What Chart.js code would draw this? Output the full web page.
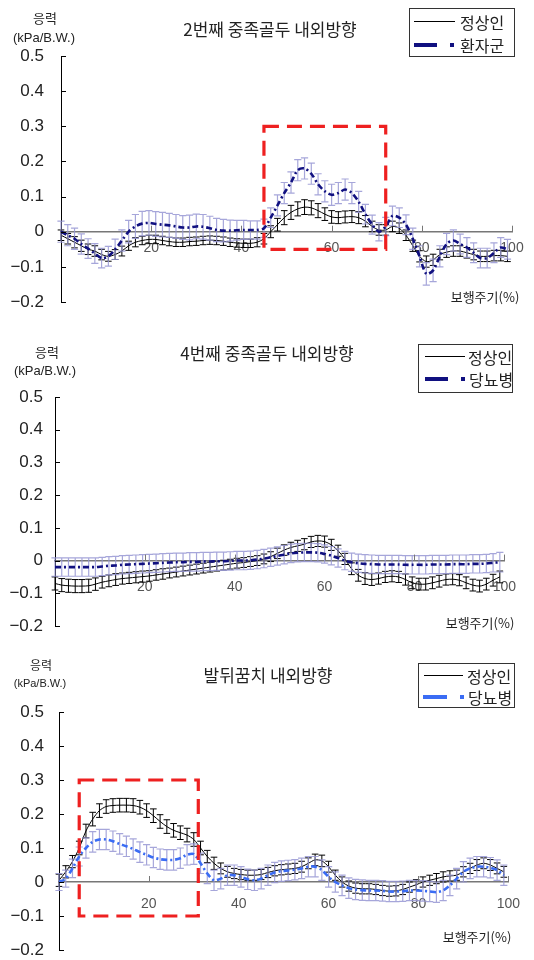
<!DOCTYPE html>
<html>
<head>
<meta charset="utf-8">
<script src="https://cdn.jsdelivr.net/npm/chart.js@4.4.0/dist/chart.umd.min.js"></script>
<style>
  body { margin: 0; background: #fff; width: 534px; height: 960px; position: relative; overflow: hidden;
         font-family: "Liberation Sans", "Noto Sans CJK KR", sans-serif; color: #222; }
  .panel { position: absolute; left: 0; width: 534px; height: 320px; }
  .c { position: absolute; white-space: nowrap; line-height: 1; transform: translate(-50%, -50%); }
  .lt { position: absolute; white-space: nowrap; line-height: 1; transform: translateY(-50%); font-size: 16px;
        font-family: "Noto Sans CJK KR", sans-serif; }
  .box { position: absolute; border: 1.5px solid #333; box-sizing: border-box; }
  .ln { position: absolute; height: 0; border-top: 1px solid #000; }
  .blk { position: absolute; height: 4px; }
  .kr { font-family: "Noto Sans CJK KR", sans-serif; }
</style>
</head>
<body>

<div class="panel" style="top:0"><canvas id="c1" width="534" height="320"></canvas></div>
<div class="panel" style="top:320px"><canvas id="c2" width="534" height="320"></canvas></div>
<div class="panel" style="top:640px"><canvas id="c3" width="534" height="320"></canvas></div>

<!-- panel 1 texts -->
<div class="c kr" style="left:45px;top:17px;font-size:13px">응력</div>
<div class="c" style="left:44px;top:37px;font-size:13px">(kPa/B.W.)</div>
<div class="c kr" style="left:270px;top:28px;font-size:17px">2번째 중족골두 내외방향</div>
<div class="c kr" style="left:485px;top:296px;font-size:13px">보행주기(%)</div>
<div class="box" style="left:409px;top:8px;width:106px;height:49px"></div>
<div class="ln" style="left:414px;top:21px;width:41px"></div>
<div class="blk" style="left:414px;top:43px;width:23px;background:#101080"></div>
<div class="blk" style="left:450px;top:43px;width:4px;background:#101080"></div>
<div class="lt" style="left:460px;top:22px">정상인</div>
<div class="lt" style="left:460px;top:45px">환자군</div>

<!-- panel 2 texts -->
<div class="c kr" style="left:47px;top:351px;font-size:13px">응력</div>
<div class="c" style="left:45px;top:370px;font-size:13px">(kPa/B.W.)</div>
<div class="c kr" style="left:267px;top:352px;font-size:17px">4번째 중족골두 내외방향</div>
<div class="c kr" style="left:480px;top:622px;font-size:13px">보행주기(%)</div>
<div class="box" style="left:418px;top:344px;width:95px;height:49px"></div>
<div class="ln" style="left:425px;top:356px;width:40px"></div>
<div class="blk" style="left:425px;top:377px;width:23px;background:#101080"></div>
<div class="blk" style="left:461px;top:377px;width:4px;background:#101080"></div>
<div class="lt" style="left:468px;top:357px">정상인</div>
<div class="lt" style="left:469px;top:379px">당뇨병</div>

<!-- panel 3 texts -->
<div class="c kr" style="left:41px;top:665px;font-size:12px">응력</div>
<div class="c" style="left:40px;top:683px;font-size:11px">(kPa/B.W.)</div>
<div class="c kr" style="left:268px;top:674px;font-size:17px">발뒤꿈치 내외방향</div>
<div class="c kr" style="left:477px;top:936px;font-size:13px">보행주기(%)</div>
<div class="box" style="left:418px;top:663px;width:97px;height:45px"></div>
<div class="ln" style="left:424px;top:675px;width:39px"></div>
<div class="blk" style="left:423px;top:695px;width:24px;background:#3a6cf4"></div>
<div class="blk" style="left:460px;top:695px;width:4px;background:#3a6cf4"></div>
<div class="lt" style="left:467px;top:676px">정상인</div>
<div class="lt" style="left:468px;top:697px">당뇨병</div>

<script>
// gait cycle (%)
const X = [0,1.5,3,4.5,6,7.5,9,10.5,12,13.5,
  15,16.5,18,19.5,21,22.5,24,25.5,27,28.5,
  30,31.5,33,34.5,36,37.5,39,40.5,42,43.5,
  45,46.5,48,49.5,51,52.5,54,55.5,57,58.5,
  60,61.5,63,64.5,66,67.5,69,70.5,72,73.5,
  75,76.5,78,79.5,81,82.5,84,85.5,87,88.5,
  90,91.5,93,94.5,96,97.5,99];

// 2nd metatarsal head - normal / patient
const N1 = [-0.01,-0.02,-0.03,-0.04,-0.05,-0.055,-0.065,-0.07,-0.065,-0.055,
  -0.04,-0.03,-0.025,-0.022,-0.022,-0.025,-0.028,-0.03,-0.03,-0.028,
  -0.027,-0.025,-0.024,-0.025,-0.027,-0.03,-0.032,-0.033,-0.033,-0.03,
  -0.02,0.0,0.02,0.04,0.055,0.065,0.07,0.068,0.06,0.05,
  0.042,0.04,0.042,0.043,0.04,0.03,0.015,0.005,0.005,0.015,
  0.01,-0.01,-0.04,-0.07,-0.085,-0.08,-0.065,-0.058,-0.055,-0.055,
  -0.06,-0.065,-0.07,-0.07,-0.068,-0.068,-0.07];
const N1_SD = [0.015,0.015,0.016,0.016,0.015,0.015,0.015,0.014,0.014,0.014,
  0.013,0.013,0.012,0.012,0.012,0.012,0.012,0.012,0.012,0.012,
  0.012,0.012,0.012,0.012,0.012,0.012,0.012,0.012,0.012,0.013,
  0.015,0.017,0.018,0.02,0.02,0.02,0.021,0.02,0.02,0.018,
  0.018,0.017,0.017,0.017,0.017,0.016,0.015,0.015,0.015,0.015,
  0.015,0.015,0.016,0.016,0.016,0.016,0.015,0.015,0.015,0.015,
  0.015,0.015,0.015,0.015,0.015,0.015,0.015];
const P1 = [0.0,-0.01,-0.02,-0.035,-0.048,-0.062,-0.075,-0.07,-0.05,-0.025,
  0.0,0.015,0.023,0.025,0.022,0.02,0.018,0.015,0.012,0.012,
  0.015,0.014,0.01,0.005,0.003,0.003,0.004,0.005,0.005,0.005,
  0.01,0.04,0.075,0.11,0.14,0.175,0.18,0.165,0.135,0.115,
  0.105,0.11,0.12,0.11,0.085,0.05,0.02,0.0,0.015,0.045,
  0.04,0.02,-0.02,-0.07,-0.12,-0.11,-0.07,-0.035,-0.025,-0.035,
  -0.045,-0.06,-0.075,-0.075,-0.06,-0.045,-0.05];
const P1_SD = [0.03,0.03,0.03,0.029,0.028,0.028,0.028,0.028,0.029,0.03,
  0.032,0.034,0.035,0.035,0.035,0.035,0.034,0.034,0.034,0.035,
  0.035,0.035,0.034,0.033,0.032,0.03,0.028,0.027,0.026,0.026,
  0.026,0.028,0.03,0.03,0.03,0.03,0.03,0.03,0.03,0.03,
  0.03,0.03,0.03,0.03,0.03,0.028,0.027,0.026,0.026,0.028,
  0.028,0.028,0.03,0.03,0.032,0.032,0.03,0.03,0.03,0.028,
  0.028,0.028,0.028,0.028,0.028,0.028,0.028];

// 4th metatarsal head - normal / diabetes
const N2 = [-0.07,-0.075,-0.077,-0.078,-0.078,-0.077,-0.072,-0.066,-0.062,-0.058,
  -0.055,-0.053,-0.051,-0.049,-0.047,-0.044,-0.041,-0.038,-0.035,-0.032,
  -0.029,-0.026,-0.023,-0.02,-0.017,-0.014,-0.011,-0.008,-0.006,-0.003,
  0.0,0.005,0.012,0.022,0.032,0.04,0.045,0.05,0.057,0.06,
  0.058,0.048,0.03,0.005,-0.025,-0.045,-0.055,-0.058,-0.055,-0.05,
  -0.048,-0.05,-0.058,-0.068,-0.072,-0.072,-0.068,-0.063,-0.058,-0.057,
  -0.06,-0.068,-0.075,-0.078,-0.072,-0.06,-0.05];
const N2_SD = [0.02,0.02,0.02,0.02,0.02,0.02,0.019,0.018,0.018,0.018,
  0.017,0.017,0.017,0.017,0.016,0.016,0.016,0.015,0.015,0.015,
  0.015,0.015,0.015,0.015,0.015,0.015,0.015,0.015,0.015,0.015,
  0.015,0.015,0.015,0.016,0.016,0.016,0.017,0.017,0.017,0.017,
  0.017,0.017,0.017,0.017,0.018,0.018,0.018,0.018,0.017,0.017,
  0.017,0.017,0.017,0.018,0.018,0.018,0.018,0.018,0.017,0.017,
  0.017,0.018,0.018,0.018,0.018,0.018,0.018];
const P2 = [-0.02,-0.02,-0.02,-0.02,-0.02,-0.02,-0.02,-0.018,-0.016,-0.015,
  -0.013,-0.012,-0.011,-0.01,-0.009,-0.008,-0.007,-0.006,-0.005,-0.005,
  -0.004,-0.004,-0.003,-0.003,-0.002,-0.002,-0.001,0.0,0.0,0.001,
  0.003,0.006,0.01,0.014,0.018,0.022,0.024,0.025,0.025,0.024,
  0.02,0.015,0.008,0.0,-0.005,-0.008,-0.01,-0.011,-0.012,-0.012,
  -0.012,-0.012,-0.013,-0.013,-0.013,-0.013,-0.012,-0.012,-0.012,-0.011,
  -0.011,-0.011,-0.01,-0.01,-0.009,-0.007,-0.005];
const P2_SD = [0.028,0.028,0.028,0.028,0.028,0.028,0.028,0.028,0.028,0.028,
  0.028,0.028,0.028,0.028,0.028,0.028,0.028,0.028,0.028,0.028,
  0.028,0.028,0.028,0.028,0.028,0.028,0.028,0.028,0.028,0.028,
  0.028,0.028,0.028,0.028,0.028,0.028,0.028,0.028,0.028,0.028,
  0.028,0.028,0.028,0.028,0.028,0.028,0.028,0.028,0.028,0.028,
  0.028,0.028,0.028,0.028,0.028,0.028,0.028,0.028,0.028,0.028,
  0.028,0.028,0.028,0.028,0.028,0.028,0.03];

// heel - normal / diabetes
const N3 = [0.005,0.03,0.06,0.1,0.15,0.185,0.21,0.222,0.225,0.226,
  0.226,0.225,0.22,0.21,0.195,0.178,0.163,0.152,0.145,0.138,
  0.125,0.1,0.075,0.055,0.04,0.03,0.025,0.022,0.02,0.02,
  0.022,0.028,0.033,0.036,0.038,0.04,0.045,0.055,0.065,0.062,
  0.045,0.02,0.0,-0.012,-0.018,-0.02,-0.02,-0.022,-0.025,-0.027,
  -0.026,-0.022,-0.015,-0.008,0.0,0.005,0.01,0.015,0.018,0.02,
  0.03,0.04,0.05,0.055,0.05,0.04,0.03];
const N3_SD = [0.018,0.018,0.018,0.02,0.02,0.02,0.02,0.02,0.02,0.02,
  0.02,0.02,0.02,0.02,0.02,0.02,0.02,0.02,0.02,0.02,
  0.02,0.02,0.018,0.018,0.016,0.016,0.015,0.015,0.015,0.015,
  0.015,0.015,0.015,0.015,0.015,0.015,0.016,0.016,0.017,0.017,
  0.016,0.015,0.015,0.015,0.015,0.015,0.015,0.015,0.015,0.015,
  0.015,0.015,0.015,0.015,0.015,0.015,0.015,0.015,0.015,0.015,
  0.015,0.015,0.016,0.016,0.016,0.016,0.016];
const P3 = [0.0,0.01,0.04,0.075,0.1,0.118,0.125,0.125,0.12,0.112,
  0.105,0.097,0.088,0.08,0.072,0.067,0.065,0.065,0.07,0.08,
  0.082,0.055,0.025,0.005,0.01,0.02,0.02,0.015,0.008,0.005,
  0.01,0.02,0.028,0.032,0.034,0.036,0.04,0.045,0.045,0.035,
  0.015,0.0,-0.01,-0.018,-0.022,-0.024,-0.025,-0.025,-0.026,-0.028,
  -0.028,-0.027,-0.025,-0.025,-0.026,-0.028,-0.03,-0.025,-0.01,0.01,
  0.03,0.04,0.045,0.045,0.042,0.035,0.02];
const P3_SD = [0.025,0.025,0.027,0.028,0.03,0.03,0.03,0.03,0.03,0.03,
  0.03,0.03,0.03,0.03,0.03,0.03,0.03,0.03,0.03,0.03,
  0.03,0.03,0.03,0.03,0.03,0.03,0.03,0.03,0.03,0.03,
  0.03,0.03,0.03,0.03,0.03,0.03,0.03,0.03,0.03,0.03,
  0.03,0.03,0.03,0.03,0.03,0.03,0.03,0.03,0.03,0.03,
  0.03,0.03,0.03,0.03,0.03,0.03,0.03,0.03,0.03,0.03,
  0.03,0.03,0.03,0.03,0.03,0.03,0.03];

// highlighted regions: [x from, x to, y from, y to]
const BOX1 = [45, 72, -0.05, 0.3];
const BOX3 = [4.5, 31, -0.1, 0.3];

Chart.defaults.font.family = '"Liberation Sans", "Noto Sans CJK KR", sans-serif';

const pts = (ys) => X.map((x, i) => ({ x: x, y: ys[i] }));

// error bars, drawn just before each dataset's line
const errorBars = {
  id: 'errorBars',
  beforeDatasetDraw(chart, args) {
    const ds = chart.data.datasets[args.index];
    if (!ds.sd) return;
    const xs = chart.scales.x, ys = chart.scales.y, ctx = chart.ctx;
    ctx.save();
    ctx.strokeStyle = ds.barColor;
    ctx.lineWidth = ds.barWidth;
    ctx.beginPath();
    ds.data.forEach((p, i) => {
      const x = xs.getPixelForValue(p.x);
      const y1 = ys.getPixelForValue(p.y + ds.sd[i]);
      const y2 = ys.getPixelForValue(p.y - ds.sd[i]);
      ctx.moveTo(x, y1); ctx.lineTo(x, y2);
      ctx.moveTo(x - ds.cap, y1); ctx.lineTo(x + ds.cap, y1);
      ctx.moveTo(x - ds.cap, y2); ctx.lineTo(x + ds.cap, y2);
    });
    ctx.stroke();
    ctx.restore();
  }
};

// inward tick marks + dashed red box
const decor = {
  id: 'decor',
  afterDraw(chart) {
    const xs = chart.scales.x, ys = chart.scales.y, ctx = chart.ctx;
    const zero = ys.getPixelForValue(0);
    ctx.save();
    ctx.lineWidth = 1;
    ctx.strokeStyle = '#000';
    ctx.beginPath();
    ys.ticks.forEach(t => {
      const y = Math.round(ys.getPixelForValue(t.value)) + 0.5;
      ctx.moveTo(ys.right, y); ctx.lineTo(ys.right + 5, y);
    });
    ctx.stroke();
    ctx.strokeStyle = '#777';
    ctx.beginPath();
    xs.ticks.forEach(t => {
      if (t.value === 0) return;
      const x = Math.round(xs.getPixelForValue(t.value)) + 0.5;
      ctx.moveTo(x, zero); ctx.lineTo(x, zero - 6);
    });
    ctx.stroke();
    const b = chart.options.plugins.decor.box;
    if (b) {
      const x1 = xs.getPixelForValue(b[0]), x2 = xs.getPixelForValue(b[1]);
      const y1 = ys.getPixelForValue(b[3]), y2 = ys.getPixelForValue(b[2]);
      ctx.strokeStyle = '#ee2020';
      ctx.lineWidth = 3.2;
      ctx.setLineDash([15, 8]);
      ctx.strokeRect(x1, y1, x2 - x1, y2 - y1);
    }
    ctx.restore();
  }
};

function yLabel(v) {
  if (Math.abs(v) < 1e-9) return '0';
  return v < 0 ? '\u2212' + Math.abs(v).toFixed(1) : v.toFixed(1);
}

function makeChart(id, normal, normalSd, patient, patientSd, patColor, g) {
  const chart = new Chart(document.getElementById(id), {
    type: 'line',
    data: {
      datasets: [
        {
          label: 'patient',
          data: pts(patient),
          sd: patientSd, barColor: 'rgba(150,150,212,0.85)', barWidth: 1.2, cap: 3.6,
          borderColor: patColor, borderWidth: 2.6, borderDash: [6, 3, 2, 3],
          pointRadius: 0, tension: 0.3, fill: false
        },
        {
          label: 'normal',
          data: pts(normal),
          sd: normalSd, barColor: '#000', barWidth: 1, cap: 3.3,
          borderColor: '#000', borderWidth: 1,
          pointRadius: 0, tension: 0.3, fill: false
        }
      ]
    },
    options: {
      responsive: false,
      animation: false,
      events: [],
      layout: { padding: { top: g.top, bottom: 320 - g.bottom, left: 0, right: 534 - g.right } },
      plugins: {
        legend: { display: false },
        tooltip: { enabled: false },
        decor: { box: g.box }
      },
      scales: {
        x: {
          type: 'linear', min: 0, max: 100,
          position: { y: 0 },
          grid: { display: false, drawTicks: false },
          border: { color: '#777', width: 1.5 },
          ticks: {
            stepSize: 20, autoSkip: false, maxRotation: 0, padding: g.xPad,
            color: '#555', font: { size: 14 },
            callback: v => (v === 0 ? '' : v)
          }
        },
        y: {
          min: -0.2, max: 0.5,
          grid: { display: false, drawTicks: false },
          border: { color: '#000', width: 1 },
          ticks: { stepSize: 0.1, padding: g.yPad, color: '#222', font: { size: 17 }, callback: yLabel },
          afterFit: s => { s.width = g.yW; s.paddingTop = 0; s.paddingBottom = 0; }
        }
      }
    },
    plugins: [errorBars, decor]
  });

  // nudge the layout padding until the plot area sits where the reference has it
  for (let k = 0; k < 3; k++) {
    const a = chart.chartArea, p = chart.options.layout.padding;
    p.top += g.top - a.top;
    p.bottom += a.bottom - g.bottom;
    p.right += a.right - g.right;
    chart.update();
  }
  return chart;
}

makeChart('c1', N1, N1_SD, P1, P1_SD, '#101080',
  { top: 56, bottom: 302, right: 512, yW: 61, yPad: 17, xPad: 8, box: BOX1 });
makeChart('c2', N2, N2_SD, P2, P2_SD, '#101080',
  { top: 77, bottom: 306, right: 514, yW: 55, yPad: 12, xPad: 18, box: null });
makeChart('c3', N3, N3_SD, P3, P3_SD, '#3a6cf4',
  { top: 72, bottom: 310, right: 513, yW: 59, yPad: 15, xPad: 14, box: BOX3 });
</script>
</body>
</html>
